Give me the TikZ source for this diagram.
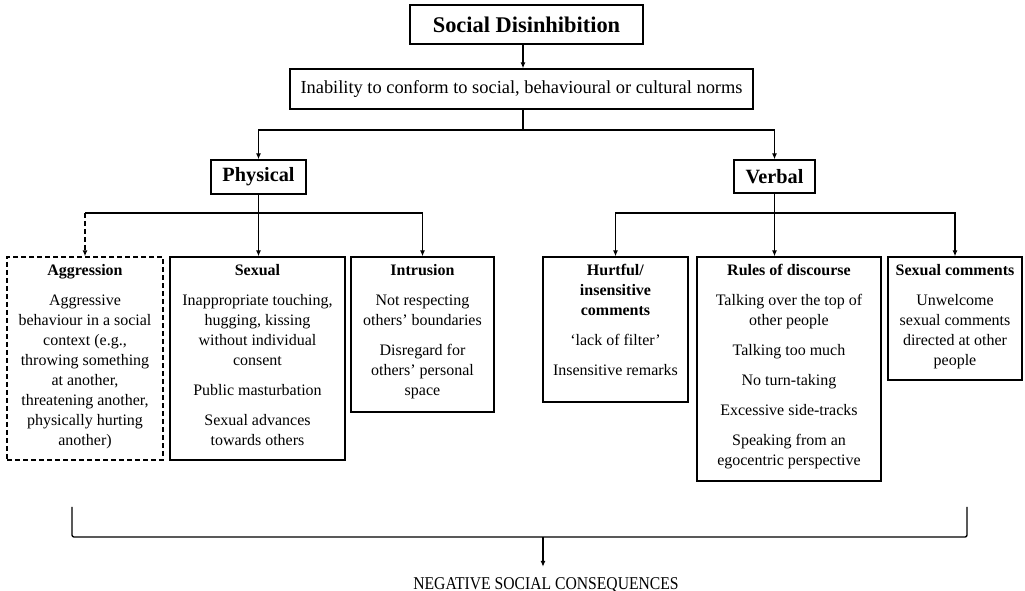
\documentclass[tikz,border=0pt]{standalone}
\usepackage{fontspec}
\setmainfont{Liberation Serif}
\usetikzlibrary{arrows.meta}
\tikzset{
  bx/.style={draw, line width=1pt, inner sep=0pt, align=center},
  arr/.style={line width=1pt, -{Latex[length=4.5pt,width=3.8pt]}},
  ln/.style={line width=1pt},
  boxtext/.style={anchor=north, yshift=-6pt, align=center, inner sep=0pt, font=\fontsize{12}{15}\selectfont},
}
\newcommand{\gapp}{\\[7.5pt]}
\begin{document}
\begin{tikzpicture}[x=0.75pt,y=-0.75pt]
\useasboundingbox (0,0) rectangle (1025,591);

% top boxes
\node[bx, minimum width=174.75pt, minimum height=29.25pt, font=\fontsize{16.8}{20}\selectfont\bfseries] (title) at (526.5,24.5) {Social Disinhibition};
\node[bx, minimum width=347.25pt, minimum height=30pt, font=\fontsize{13.8}{16}\selectfont] (b2) at (521.5,89) {Inability to conform to social, behavioural or cultural norms};
\node[bx, minimum width=71.25pt, minimum height=25.5pt, font=\fontsize{15.2}{18}\selectfont\bfseries] (phys) at (258.5,177) {Physical};
\node[bx, minimum width=60.75pt, minimum height=24.75pt, font=\fontsize{15.2}{18}\selectfont\bfseries] (verb) at (774.5,176.5) {Verbal};

% category boxes
\node[bx, dash pattern=on 3.5pt off 2.5pt, minimum width=117pt, minimum height=152.25pt] (agg) at (85,358.5) {};
\node[bx, minimum width=131.25pt, minimum height=152.25pt] (sex) at (257.5,358.5) {};
\node[bx, minimum width=107.25pt, minimum height=116.25pt] (intr) at (422.5,334.5) {};
\node[bx, minimum width=108.75pt, minimum height=108.75pt] (hurt) at (615.5,329.5) {};
\node[bx, minimum width=138pt, minimum height=168pt] (rules) at (789,369) {};
\node[bx, minimum width=100.5pt, minimum height=92.25pt] (sexc) at (955,318.5) {};

% box texts
\node[boxtext] (aggt) at (agg.north) {\textbf{Aggression}\gapp
Aggressive\\behaviour in a social\\context (e.g.,\\throwing something\\at another,\\threatening another,\\physically hurting\\another)};
\node[boxtext] (sext) at (sex.north) {\textbf{Sexual}\gapp
Inappropriate touching,\\hugging, kissing\\without individual\\consent\gapp
Public masturbation\gapp
Sexual advances\\towards others};
\node[boxtext] (intrt) at (intr.north) {\textbf{Intrusion}\gapp
Not respecting\\others’ boundaries\gapp
Disregard for\\others’ personal\\space};
\node[boxtext] (hurtt) at (hurt.north) {\textbf{Hurtful/}\\\textbf{insensitive}\\\textbf{comments}\gapp
‘lack of filter’\gapp
Insensitive remarks};
\node[boxtext] (rulest) at (rules.north) {\textbf{Rules of discourse}\gapp
Talking over the top of\\other people\gapp
Talking too much\gapp
No turn-taking\gapp
Excessive side-tracks\gapp
Speaking from an\\egocentric perspective};
\node[boxtext] (sexct) at (sexc.north) {\textbf{Sexual comments}\gapp
Unwelcome\\sexual comments\\directed at other\\people};

% top connectors
\coordinate (j0) at (523,130);
\draw[arr] (title.south -| j0) -- (b2.north -| j0);
\draw[ln] (b2.south -| j0) -- (j0);
\draw[arr] (j0) -| (phys.north);
\draw[arr] (j0) -| (verb.north);

% physical connectors
\coordinate (jy) at (0,213);
\coordinate (pj) at (phys.south |- jy);
\draw[ln] (phys.south) -- (pj);
\draw[arr] (pj) -- (pj |- sex.north);
\draw[arr] (pj) -| (intr.north);
\draw[ln] (pj) -- (pj -| agg.north) coordinate (pa);
\draw[arr, dash pattern=on 3.5pt off 2.5pt] (pa) -- (agg.north);

% verbal connectors
\coordinate (vj) at (verb.south |- jy);
\draw[ln] (verb.south) -- (vj);
\draw[arr] (vj) -- (vj |- rules.north);
\draw[arr] (vj) -| (hurt.north);
\draw[arr] (vj) -| (sexc.north);

% bottom brace
\coordinate (bl1) at (72,507);
\coordinate (bl2) at (72,537);
\coordinate (br2) at (967,537);
\coordinate (br1) at (967,507);
\coordinate (bm) at (543,537);
\draw[ln, rounded corners=1.5pt] (bl1) -- (bl2) -- (br2) -- (br1);
\node[anchor=base, inner xsep=0pt, inner ysep=7.5pt, font=\fontsize{13.5}{16}\selectfont] (neg) at (546,589) {\scalebox{0.87}[1]{NEGATIVE SOCIAL CONSEQUENCES}};
\draw[arr] (bm) -- (bm |- neg.north);
\end{tikzpicture}
\end{document}
